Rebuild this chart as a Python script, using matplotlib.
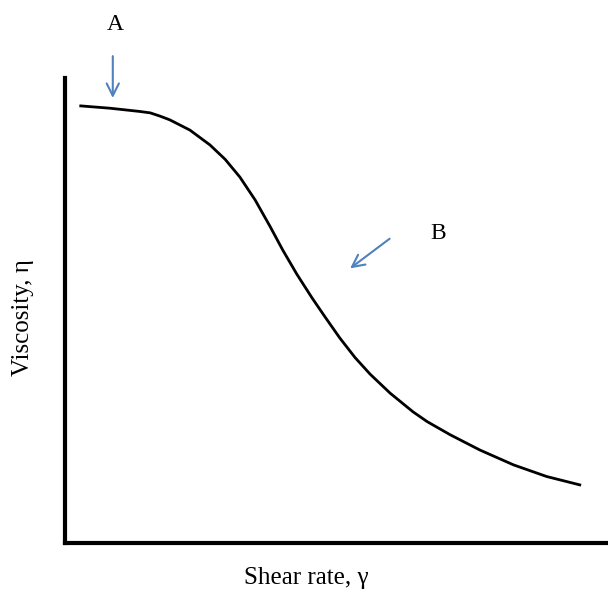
import numpy as np
import matplotlib.pyplot as plt

plt.rcParams['font.family'] = ['Liberation Serif', 'DejaVu Serif']

# schematic flow curve (arbitrary units)
shear_rate = [0.29, 0.83, 1.38, 1.57, 1.75, 1.93, 2.30, 2.67, 2.95, 3.22,
              3.50, 3.78, 4.01, 4.27, 4.55, 4.79, 5.06, 5.34, 5.62, 5.99,
              6.41, 6.67, 7.09, 7.64, 8.26, 8.87, 9.48]
viscosity = [9.40, 9.35, 9.28, 9.25, 9.18, 9.10, 8.88, 8.56, 8.25, 7.87,
             7.38, 6.80, 6.30, 5.78, 5.27, 4.86, 4.41, 3.99, 3.63, 3.22,
             2.82, 2.61, 2.33, 2.00, 1.68, 1.43, 1.25]

fig = plt.figure(figsize=(6.08, 5.94), dpi=100)
ax = fig.add_axes([65/608, 51/594, 543/608, 465/594])

ax.plot(shear_rate, viscosity, color='black', lw=2.0, solid_joinstyle='round')
ax.set_xlim(0, 10)
ax.set_ylim(0, 10)

for s in ['top', 'right']:
    ax.spines[s].set_visible(False)
for s in ['left', 'bottom']:
    ax.spines[s].set_linewidth(3)
ax.set_xticks([])
ax.set_yticks([])

arrow_col = '#4f81bd'
ax.annotate('', xy=(0.88, 9.51), xytext=(0.88, 10.53),
            arrowprops=dict(arrowstyle='->', color=arrow_col, lw=1.5,
                            mutation_scale=22), annotation_clip=False)
ax.annotate('', xy=(5.21, 5.87), xytext=(6.02, 6.58),
            arrowprops=dict(arrowstyle='->', color=arrow_col, lw=1.5,
                            mutation_scale=22), annotation_clip=False)
ax.text(0.92, 11.15, 'A', fontsize=17, ha='center', va='center', clip_on=False)
ax.text(6.87, 6.65, 'B', fontsize=17, ha='center', va='center')

fig.text(306/608, 1 - 578/594, 'Shear rate, γ', fontsize=18, ha='center', va='center')
fig.text(23/608, 1 - 318/594, 'Viscosity, η', fontsize=18, ha='center', va='center',
         rotation=90)

plt.savefig('out.png', dpi=100)
